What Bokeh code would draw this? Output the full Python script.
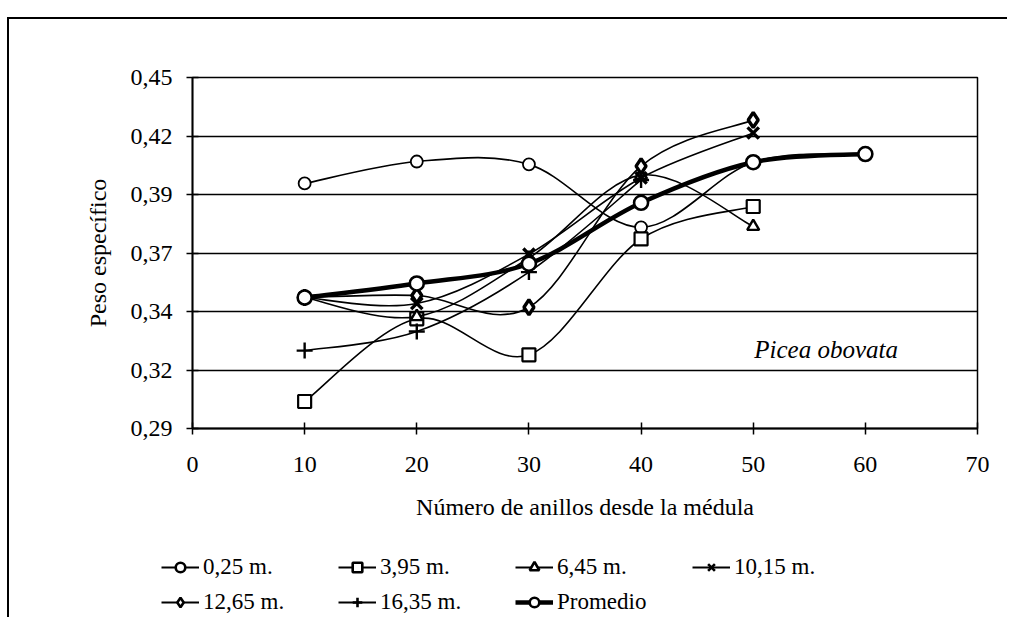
import numpy as np
from bokeh.plotting import figure
from bokeh.layouts import column
from bokeh.models import FixedTicker, Legend, LegendItem, Label, ColumnDataSource, Range1d
from bokeh.embed import file_html
from bokeh.resources import INLINE

# ---------------- data ----------------
RINGS_6 = [10, 20, 30, 40, 50, 60]
RINGS_5 = [10, 20, 30, 40, 50]
RINGS_4 = [10, 20, 30, 40]

H_025 = [0.4017, 0.4117, 0.4104, 0.3817, 0.4114, 0.4151]
H_395 = [0.3023, 0.3400, 0.3236, 0.3764, 0.3912]
H_645 = [0.3497, 0.3410, 0.3677, 0.4055, 0.3821]
H_1015 = [0.3497, 0.3470, 0.3695, 0.4042, 0.4247]
H_1265 = [0.3497, 0.3506, 0.3453, 0.4096, 0.4306]
H_1635 = [0.3255, 0.3342, 0.3613, 0.4033]
PROMEDIO = [0.3497, 0.3561, 0.3651, 0.3929, 0.4114, 0.4151]

SERIES_NAMES = ["0,25 m.", "3,95 m.", "6,45 m.", "10,15 m.", "12,65 m.", "16,35 m.", "Promedio"]

X_TICKS = [0, 10, 20, 30, 40, 50, 60, 70]
Y_TICK_LABELS = ["0,29", "0,32", "0,34", "0,37", "0,39", "0,42", "0,45"]
Y_MIN, Y_MAX = 0.29, 0.45

FONT = "Liberation Serif"


def smooth_segments(xs, ys):
    """Bezier segments (Catmull-Rom style, like Excel's smoothed line)."""
    n = len(xs)
    d = dict(x0=[], y0=[], x1=[], y1=[], cx0=[], cy0=[], cx1=[], cy1=[])
    for i in range(n - 1):
        a = i - 1 if i > 0 else i
        b = i + 2 if i + 2 < n else i + 1
        x0, y0 = xs[i], ys[i]
        x1, y1 = xs[i + 1], ys[i + 1]
        d["x0"].append(x0); d["y0"].append(y0)
        d["x1"].append(x1); d["y1"].append(y1)
        d["cx0"].append(x0 + (xs[i + 1] - xs[a]) / 6.0)
        d["cy0"].append(y0 + (ys[i + 1] - ys[a]) / 6.0)
        d["cx1"].append(x1 - (xs[b] - xs[i]) / 6.0)
        d["cy1"].append(y1 - (ys[b] - ys[i]) / 6.0)
    return ColumnDataSource(d)


# ---------------- main chart ----------------
p = figure(
    width=1000, height=516,
    x_range=(0, 70), y_range=(Y_MIN, Y_MAX),
    output_backend="svg", toolbar_location=None,
    min_border_left=183, min_border_right=32,
    min_border_top=58, min_border_bottom=107,
)
p.frame_align = False
p.margin = (17, 0, 0, 7)
p.styles = {"border-top": "2px solid black", "border-left": "2px solid black"}

p.background_fill_color = "white"
p.border_fill_color = "white"
p.outline_line_color = "black"
p.outline_line_width = 1.5

p.xgrid.visible = False
p.ygrid.grid_line_color = "black"
p.ygrid.grid_line_width = 1.7

y_ticks = [float(v) for v in np.linspace(Y_MIN, Y_MAX, 7)]
p.yaxis.ticker = FixedTicker(ticks=y_ticks)
p.yaxis.major_label_overrides = {t: lab for t, lab in zip(y_ticks, Y_TICK_LABELS)}
p.xaxis.ticker = FixedTicker(ticks=X_TICKS)

for ax in (p.xaxis[0], p.yaxis[0]):
    ax.axis_line_color = "black"
    ax.axis_line_width = 1.8
    ax.major_tick_line_color = "black"
    ax.major_tick_line_width = 1.5
    ax.major_tick_in = 6
    ax.major_tick_out = 6
    ax.minor_tick_line_color = None
    ax.major_label_text_font = FONT
    ax.major_label_text_font_size = "24px"
    ax.major_label_text_color = "black"
    ax.axis_label_text_font = FONT
    ax.axis_label_text_font_style = "normal"
    ax.axis_label_text_font_size = "24px"
    ax.axis_label_text_color = "black"

p.xaxis.axis_label = "Número de anillos desde la médula"
p.yaxis.axis_label = "Peso específico"
p.xaxis.major_label_standoff = 22
p.yaxis.major_label_standoff = 14
p.xaxis.axis_label_standoff = 19
p.yaxis.axis_label_standoff = 17

specs = [
    (RINGS_6, H_025, "circle", 12, 1.8, 1.6),
    (RINGS_5, H_395, "square", 13, 2.2, 1.6),
    (RINGS_5, H_645, "triangle", 12, 2.4, 1.6),
    (RINGS_5, H_1015, "x", 16, 3.4, 1.6),
    (RINGS_5, H_1265, "diamond", 15, 3.4, 1.6),
    (RINGS_4, H_1635, "cross", 16, 2.4, 1.6),
    (RINGS_6, PROMEDIO, "circle", 14, 2.6, 4.5),
]

for xs, ys, marker, size, mlw, lw in specs:
    src = smooth_segments(xs, ys)
    p.bezier(x0="x0", y0="y0", x1="x1", y1="y1",
             cx0="cx0", cy0="cy0", cx1="cx1", cy1="cy1",
             source=src, line_color="black", line_width=lw)
    p.scatter(x=xs, y=ys, marker=marker, size=size,
              line_color="black", line_width=mlw, fill_color="white")

p.add_layout(Label(x=56.5, y=0.326, text="Picea obovata",
                   text_font=FONT, text_font_style="italic",
                   text_font_size="25px", text_align="center",
                   text_baseline="middle", text_color="black"))

# ---------------- legend strip (below the chart) ----------------
lg = figure(
    width=1000, height=84,
    x_range=Range1d(0, 1), y_range=Range1d(0, 1),
    x_axis_type=None, y_axis_type=None,
    output_backend="svg", toolbar_location=None,
    min_border=0,
)
lg.frame_align = False
lg.margin = (0, 0, 0, 7)
lg.styles = {"border-left": "2px solid black"}
lg.outline_line_color = None
lg.xgrid.visible = False
lg.ygrid.visible = False
lg.background_fill_color = "white"
lg.border_fill_color = "white"

NAN = float("nan")
items = []
for (xs, ys, marker, size, mlw, lw), name in zip(specs, SERIES_NAMES):
    r_line = lg.line(x=[NAN, NAN], y=[NAN, NAN], line_color="black",
                     line_width=max(lw, 2.2))
    r_mark = lg.scatter(x=[NAN], y=[NAN], marker=marker, line_color="black",
                        line_width=2.6, fill_color="white")
    items.append(LegendItem(label=name, renderers=[r_line, r_mark]))

legend = Legend(
    items=items,
    orientation="horizontal",
    ncols=4,
    location=(152, 2),
    glyph_width=38, glyph_height=24,
    label_standoff=4,
    label_width=126,
    spacing=9,
    padding=0,
    margin=0,
    border_line_color=None,
    background_fill_alpha=0,
    label_text_font=FONT,
    label_text_font_size="23px",
    label_text_color="black",
)
lg.add_layout(legend, "center")

layout = column(p, lg, spacing=0)
open("out.html", "w").write(file_html(layout, INLINE))
